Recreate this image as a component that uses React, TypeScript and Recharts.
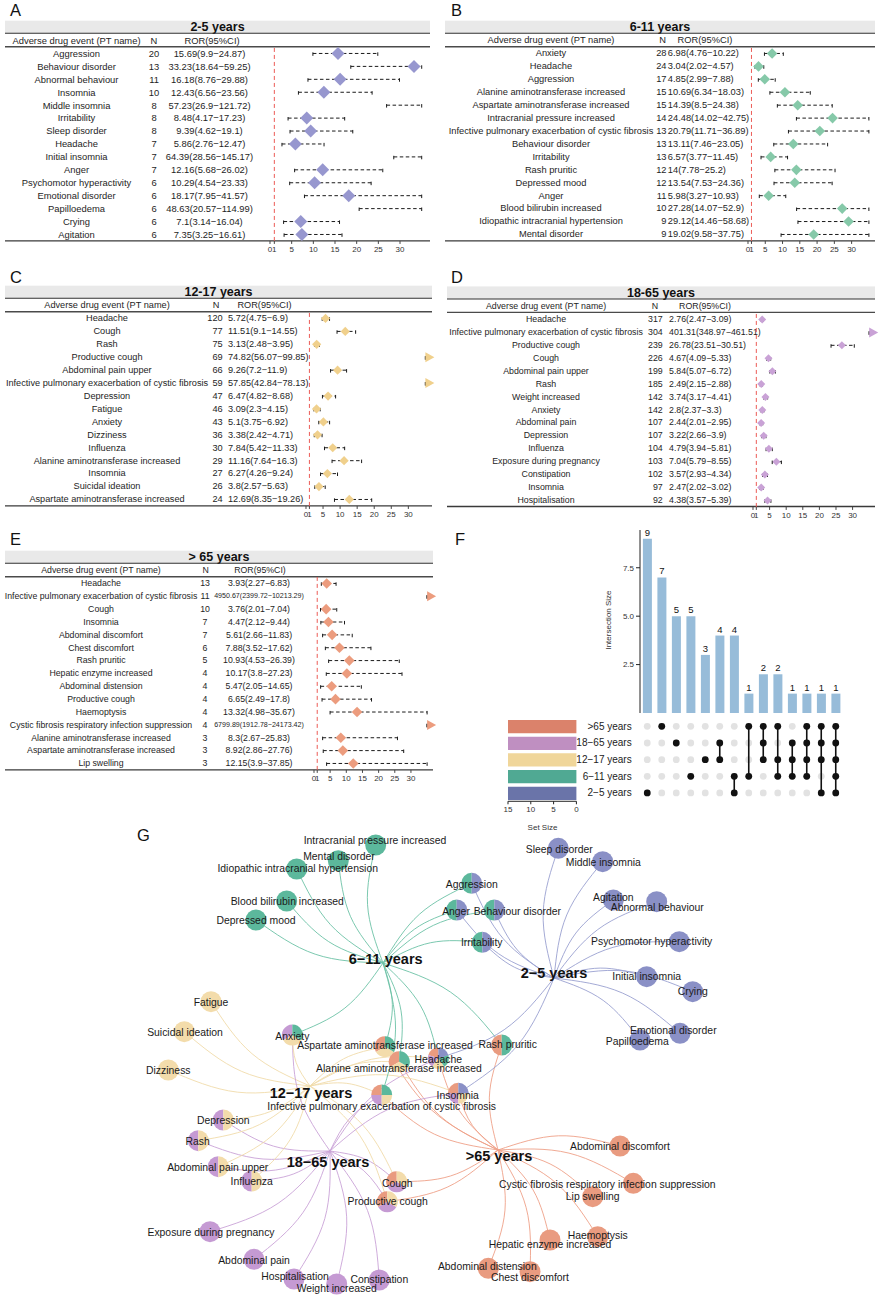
import React from 'react';
import {
  ScatterChart, Scatter, XAxis, YAxis, ErrorBar, ReferenceLine,
  BarChart, Bar, LabelList, Cell, ComposedChart, Line,
} from 'recharts';

const FONT = '"Liberation Sans", Arial, Helvetica, sans-serif';
const XMAX = 35;
const X_TICKS = [0, 1, 5, 10, 15, 20, 25, 30];

// ---- forest data, one set of arrays per age group ----
const age25Names = ['Aggression', 'Behaviour disorder', 'Abnormal behaviour', 'Insomnia', 'Middle insomnia', 'Irritability', 'Sleep disorder', 'Headache', 'Initial insomnia', 'Anger', 'Psychomotor hyperactivity', 'Emotional disorder', 'Papilloedema', 'Crying', 'Agitation'];
const age25N = [20, 13, 11, 10, 8, 8, 8, 7, 7, 7, 6, 6, 6, 6, 6];
const age25Ror = [15.69, 33.23, 16.18, 12.43, 57.23, 8.48, 9.39, 5.86, 64.39, 12.16, 10.29, 18.17, 48.63, 7.1, 7.35];
const age25Lo = [9.9, 18.64, 8.76, 6.56, 26.9, 4.17, 4.62, 2.76, 28.56, 5.68, 4.54, 7.95, 20.57, 3.14, 3.25];
const age25Hi = [24.87, 59.25, 29.88, 23.56, 121.72, 17.23, 19.1, 12.47, 145.17, 26.02, 23.33, 41.57, 114.99, 16.04, 16.61];

const age611Names = ['Anxiety', 'Headache', 'Aggression', 'Alanine aminotransferase increased', 'Aspartate aminotransferase increased', 'Intracranial pressure increased', 'Infective pulmonary exacerbation of cystic fibrosis', 'Behaviour disorder', 'Irritability', 'Rash pruritic', 'Depressed mood', 'Anger', 'Blood bilirubin increased', 'Idiopathic intracranial hypertension', 'Mental disorder'];
const age611N = [28, 24, 17, 15, 15, 14, 13, 13, 13, 12, 12, 11, 10, 9, 9];
const age611Ror = [6.98, 3.04, 4.85, 10.69, 14.39, 24.48, 20.79, 13.11, 6.57, 14, 13.54, 5.98, 27.28, 29.12, 19.02];
const age611Lo = [4.76, 2.02, 2.99, 6.34, 8.5, 14.02, 11.71, 7.46, 3.77, 7.78, 7.53, 3.27, 14.07, 14.46, 9.58];
const age611Hi = [10.22, 4.57, 7.88, 18.03, 24.38, 42.75, 36.89, 23.05, 11.45, 25.2, 24.36, 10.93, 52.9, 58.68, 37.75];

const age1217Names = ['Headache', 'Cough', 'Rash', 'Productive cough', 'Abdominal pain upper', 'Infective pulmonary exacerbation of cystic fibrosis', 'Depression', 'Fatigue', 'Anxiety', 'Dizziness', 'Influenza', 'Alanine aminotransferase increased', 'Insomnia', 'Suicidal ideation', 'Aspartate aminotransferase increased'];
const age1217N = [120, 77, 75, 69, 66, 59, 47, 46, 43, 36, 30, 29, 27, 26, 24];
const age1217Ror = [5.72, 11.51, 3.13, 74.82, 9.26, 57.85, 6.47, 3.09, 5.1, 3.38, 7.84, 11.16, 6.27, 3.8, 12.69];
const age1217Lo = [4.75, 9.1, 2.48, 56.07, 7.2, 42.84, 4.82, 2.3, 3.75, 2.42, 5.42, 7.64, 4.26, 2.57, 8.35];
const age1217Hi = [6.9, 14.55, 3.95, 99.85, 11.9, 78.13, 8.68, 4.15, 6.92, 4.71, 11.33, 16.3, 9.24, 5.63, 19.26];

const age1865Names = ['Headache', 'Infective pulmonary exacerbation of cystic fibrosis', 'Productive cough', 'Cough', 'Abdominal pain upper', 'Rash', 'Weight increased', 'Anxiety', 'Abdominal pain', 'Depression', 'Influenza', 'Exposure during pregnancy', 'Constipation', 'Insomnia', 'Hospitalisation'];
const age1865N = [317, 304, 239, 226, 199, 185, 142, 142, 107, 107, 104, 103, 102, 97, 92];
const age1865Ror = [2.76, 401.31, 26.78, 4.67, 5.84, 2.49, 3.74, 2.8, 2.44, 3.22, 4.79, 7.04, 3.57, 2.47, 4.38];
const age1865Lo = [2.47, 348.97, 23.51, 4.09, 5.07, 2.15, 3.17, 2.37, 2.01, 2.66, 3.94, 5.79, 2.93, 2.02, 3.57];
const age1865Hi = [3.09, 461.51, 30.51, 5.33, 6.72, 2.88, 4.41, 3.3, 2.95, 3.9, 5.81, 8.55, 4.34, 3.02, 5.39];

const age65Names = ['Headache', 'Infective pulmonary exacerbation of cystic fibrosis', 'Cough', 'Insomnia', 'Abdominal discomfort', 'Chest discomfort', 'Rash pruritic', 'Hepatic enzyme increased', 'Abdominal distension', 'Productive cough', 'Haemoptysis', 'Cystic fibrosis respiratory infection suppression', 'Alanine aminotransferase increased', 'Aspartate aminotransferase increased', 'Lip swelling'];
const age65N = [13, 11, 10, 7, 7, 6, 5, 4, 4, 4, 4, 4, 3, 3, 3];
const age65Ror = [3.93, 4950.67, 3.76, 4.47, 5.61, 7.88, 10.93, 10.17, 5.47, 6.65, 13.32, 6799.89, 8.3, 8.92, 12.15];
const age65Lo = [2.27, 2399.72, 2.01, 2.12, 2.66, 3.52, 4.53, 3.8, 2.05, 2.49, 4.98, 1912.78, 2.67, 2.86, 3.9];
const age65Hi = [6.83, 10213.29, 7.04, 9.44, 11.83, 17.62, 26.39, 27.23, 14.65, 17.8, 35.67, 24173.42, 25.83, 27.76, 37.85];

// ---- UpSet data ----
const GROUPS = ['>65', '18-65', '12-17', '6-11', '2-5'];
const setLabels = ['>65 years', '18\u221265 years', '12\u221217 years', '6\u221211 years', '2\u22125 years'];
const upsetCounts = [9, 7, 5, 5, 3, 4, 4, 1, 2, 2, 1, 1, 1, 1];
const upsetSets = [
  ['2-5'], ['>65'], ['18-65'], ['6-11'], ['12-17'],
  ['18-65', '12-17'], ['6-11', '2-5'], ['>65', '6-11'],
  ['>65', '18-65', '12-17'], ['>65', '12-17', '6-11'], ['18-65', '12-17', '6-11'],
  ['>65', '18-65', '12-17', '6-11'], ['>65', '18-65', '12-17', '2-5'],
  ['>65', '18-65', '12-17', '6-11', '2-5'],
];

// ---- network layout (x, y of node, lx, ly of its label) ----
const hubLayout = [
  { key: '6-11', label: '6\u221211 years', x: 383, y: 963, lx: 385.7, ly: 959.3 },
  { key: '2-5', label: '2\u22125 years', x: 554, y: 978, lx: 554, ly: 972.7 },
  { key: '12-17', label: '12\u221217 years', x: 310, y: 1086, lx: 311, ly: 1093 },
  { key: '18-65', label: '18\u221265 years', x: 330, y: 1151, lx: 328, ly: 1161.7 },
  { key: '>65', label: '>65 years', x: 498, y: 1150, lx: 499, ly: 1156 },
];
const nodeLayout: [string, number, number, number, number][] = [
  ['Intracranial pressure increased', 375.7, 845, 375, 840],
  ['Mental disorder', 338.3, 860.7, 339, 856],
  ['Idiopathic intracranial hypertension', 296.7, 869, 297.7, 868.3],
  ['Blood bilirubin increased', 286.7, 901, 287.3, 901.7],
  ['Depressed mood', 256, 920, 256, 920.7],
  ['Aggression', 471.7, 883.3, 471.7, 884.3],
  ['Anger', 456.7, 910, 456, 911],
  ['Behaviour disorder', 494.3, 910, 517.3, 911],
  ['Irritability', 482.3, 942.3, 481.7, 942],
  ['Sleep disorder', 558.3, 848.3, 559.3, 849],
  ['Middle insomnia', 602.7, 861.7, 603.3, 862.3],
  ['Agitation', 613.3, 900, 613.3, 897.7],
  ['Abnormal behaviour', 656.7, 901.7, 657.3, 907.7],
  ['Psychomotor hyperactivity', 679.3, 941.7, 651.7, 941.7],
  ['Initial insomnia', 646.7, 976.7, 646.7, 976.7],
  ['Crying', 692.7, 991.7, 692.7, 991.7],
  ['Emotional disorder', 680, 1033.3, 673.3, 1030.7],
  ['Papilloedema', 640, 1040, 637.3, 1041.7],
  ['Fatigue', 211, 1001.7, 211, 1002.3],
  ['Suicidal ideation', 184.3, 1031.7, 185, 1032.3],
  ['Dizziness', 168.3, 1070, 168.3, 1070.7],
  ['Depression', 223.3, 1120, 223.3, 1120.7],
  ['Rash', 198.3, 1140.7, 197.7, 1141.3],
  ['Abdominal pain upper', 218.3, 1166.7, 217.7, 1167.7],
  ['Influenza', 251.7, 1181, 251.7, 1181.7],
  ['Exposure during pregnancy', 210, 1231.7, 211, 1232.3],
  ['Abdominal pain', 254, 1259.3, 254, 1260],
  ['Hospitalisation', 294, 1279, 295, 1276],
  ['Weight increased', 336.7, 1284, 336.7, 1288.3],
  ['Constipation', 379.3, 1280, 379.3, 1279.3],
  ['Cough', 396.7, 1181.7, 397.3, 1183.3],
  ['Productive cough', 387.3, 1201.7, 387.7, 1201.7],
  ['Abdominal discomfort', 620, 1146, 620, 1146.3],
  ['Cystic fibrosis respiratory infection suppression', 633.3, 1183.3, 607.3, 1184.3],
  ['Lip swelling', 592.7, 1196.7, 592.7, 1196.7],
  ['Haemoptysis', 597.7, 1236.7, 597.7, 1235],
  ['Hepatic enzyme increased', 550, 1240, 550, 1244],
  ['Abdominal distension', 488.3, 1268.3, 487.3, 1266.7],
  ['Chest discomfort', 530, 1271.7, 530, 1277.3],
  ['Rash pruritic', 501.7, 1045, 507.7, 1044.3],
  ['Aspartate aminotransferase increased', 385, 1046.7, 385, 1045.7],
  ['Alanine aminotransferase increased', 399.3, 1061.7, 399, 1068.3],
  ['Anxiety', 292.3, 1035, 292.3, 1036],
  ['Headache', 438.3, 1058.3, 438.3, 1059.5],
  ['Insomnia', 458.3, 1093.3, 457.7, 1095.7],
  ['Infective pulmonary exacerbation of cystic fibrosis', 381.7, 1095, 381.7, 1106],
];

const NET_COLORS: Record<string, string> = {
  '>65': '#e99b80', '18-65': '#c59ad3', '12-17': '#f3dcab', '6-11': '#5cb89c', '2-5': '#8a90c6',
};
const EDGE_COLORS: Record<string, string> = {
  '>65': '#eea088', '18-65': '#caa3d7', '12-17': '#f1dbaa', '6-11': '#6cc2a6', '2-5': '#9aa0d0',
};
const SET_COLORS: Record<string, string> = {
  '>65': '#db826b', '18-65': '#bf8fc1', '12-17': '#f0d69a', '6-11': '#50a993', '2-5': '#6a74a9',
};

// table column placement per panel (anchor + x), header positions, font size
const PANELS = [
  { key: '2-5', letter: 'A', lx: 10, ly: 16, title: '2-5 years', bandL: 5, bandR: 430, fs: 9.4,
    nameX: 76.5, nX: 154, nA: 'middle', rorX: 209.5, rorA: 'middle', nHX: 154, rorHX: 212,
    plotL: 270.3, plotR: 422, rowY0: 53.3, sp: 12.93, dHalf: 6.5, color: '#9797cf',
    names: age25Names, n: age25N, ror: age25Ror, lo: age25Lo, hi: age25Hi },
  { key: '6-11', letter: 'B', lx: 451, ly: 16, title: '6-11 years', bandL: 445, bandR: 875, fs: 9.3,
    nameX: 551, nX: 666.5, nA: 'end', rorX: 667.8, rorA: 'start', nHX: 662.7, rorHX: 705,
    plotL: 747.6, plotR: 868.5, rowY0: 53.3, sp: 12.93, dHalf: 5.3, color: '#86c9a9',
    names: age611Names, n: age611N, ror: age611Ror, lo: age611Lo, hi: age611Hi },
  { key: '12-17', letter: 'C', lx: 10, ly: 283, title: '12-17 years', bandL: 5, bandR: 432, fs: 9.2,
    nameX: 107, nX: 222.7, nA: 'end', rorX: 228, rorA: 'start', nHX: 216, rorHX: 264.5,
    plotL: 305.6, plotR: 425, rowY0: 318.3, sp: 12.93, dHalf: 4.6, color: '#f0d08c',
    names: age1217Names, n: age1217N, ror: age1217Ror, lo: age1217Lo, hi: age1217Hi },
  { key: '18-65', letter: 'D', lx: 451, ly: 283, title: '18-65 years', bandL: 447, bandR: 875, fs: 8.8,
    nameX: 546, nX: 662.7, nA: 'end', rorX: 669, rorA: 'start', nHX: 655, rorHX: 705,
    plotL: 752.7, plotR: 868.9, rowY0: 319, sp: 12.93, dHalf: 4, color: '#c9a2d6',
    names: age1865Names, n: age1865N, ror: age1865Ror, lo: age1865Lo, hi: age1865Hi },
  { key: '>65', letter: 'E', lx: 10, ly: 545, title: '> 65 years', bandL: 5, bandR: 433, fs: 8.75,
    nameX: 101, nX: 205, nA: 'middle', rorX: 259, rorA: 'middle', nHX: 205.7, rorHX: 260,
    plotL: 313.9, plotR: 427, rowY0: 583.3, sp: 12.86, dHalf: 5.3, color: '#ec9c7e',
    names: age65Names, n: age65N, ror: age65Ror, lo: age65Lo, hi: age65Hi },
];

function ForestChart({ cfg }: any) {
  const data = cfg.ror.map((r: number, i: number) => {
    const lo = cfg.lo[i], hi = cfg.hi[i];
    const arrow = lo > XMAX;
    const x = arrow ? XMAX : r > XMAX ? lo : r;
    return {
      row: i, x,
      err: [x - Math.min(lo, XMAX), Math.min(hi, XMAX) - x],
      kind: arrow ? 'arrow' : r > XMAX ? 'none' : 'diamond',
    };
  });
  const plotW = cfg.plotR - cfg.plotL;
  const plotH = cfg.sp * 15;
  const shape = (p: any) => {
    const { cx, cy, payload } = p;
    const h = cfg.dHalf;
    if (payload.kind === 'diamond') {
      return <polygon points={`${cx - h},${cy} ${cx},${cy - h} ${cx + h},${cy} ${cx},${cy + h}`} fill={cfg.color} />;
    }
    if (payload.kind === 'arrow') {
      return <polygon points={`${cx},${cy - 5} ${cx + 9},${cy} ${cx},${cy + 5}`} fill={cfg.color} />;
    }
    return <g />;
  };
  return (
    <div style={{ position: 'absolute', left: cfg.plotL - 8, top: cfg.rowY0 - cfg.sp / 2 }}>
      <ScatterChart width={plotW + 22} height={plotH + 18} margin={{ top: 0, right: 14, bottom: 0, left: 8 }}>
        <XAxis type="number" dataKey="x" domain={[0, XMAX]} ticks={X_TICKS} interval={0}
          axisLine={false} tickSize={3} tickLine={{ stroke: '#444' }} height={18}
          tick={{ fontSize: 8, fill: '#333', fontFamily: FONT }} />
        <YAxis type="number" dataKey="row" domain={[-0.5, 14.5]} reversed hide />
        <ReferenceLine x={1} stroke="#ec5a55" strokeDasharray="4 3" strokeWidth={1} />
        <Scatter data={data} shape={shape} isAnimationActive={false}>
          <ErrorBar dataKey="err" direction="x" width={2.4} stroke="#1a1a1a" strokeWidth={1} strokeDasharray="3.5 2.5" />
        </Scatter>
      </ScatterChart>
    </div>
  );
}

function ForestTable({ cfg }: any) {
  const y0 = cfg.rowY0;
  const bottom = y0 + 14 * cfg.sp + 6.5;
  const t = { fontFamily: FONT, fontSize: cfg.fs, fill: '#1e1e1e' } as any;
  return (
    <g>
      <text x={cfg.lx} y={cfg.ly} style={{ fontFamily: FONT, fontSize: 16.5, fill: '#111' }}>{cfg.letter}</text>
      <rect x={cfg.bandL} y={y0 - 32.6} width={cfg.bandR - cfg.bandL} height={12.6} fill="#e9e9e9" />
      <text x={(cfg.bandL + cfg.bandR) / 2} y={y0 - 26.3} textAnchor="middle" dominantBaseline="central"
        style={{ fontFamily: FONT, fontSize: 12.5, fontWeight: 700, fill: '#111' }}>{cfg.title}</text>
      <line x1={cfg.bandL} x2={cfg.bandR} y1={y0 - 20} y2={y0 - 20} stroke="#333" strokeWidth={1.1} />
      <text x={cfg.nameX} y={y0 - 13.3} textAnchor="middle" dominantBaseline="central" style={t}>Adverse drug event (PT name)</text>
      <text x={cfg.nHX} y={y0 - 13.3} textAnchor="middle" dominantBaseline="central" style={t}>N</text>
      <text x={cfg.rorHX} y={y0 - 13.3} textAnchor="middle" dominantBaseline="central" style={t}>ROR(95%CI)</text>
      <line x1={cfg.bandL} x2={cfg.bandR} y1={y0 - 6.6} y2={y0 - 6.6} stroke="#4a4a4a" strokeWidth={1.4} />
      {cfg.names.map((name: string, i: number) => {
        const y = y0 + i * cfg.sp;
        const label = `${cfg.ror[i]}(${cfg.lo[i]}\u2212${cfg.hi[i]})`;
        const small = cfg.hi[i] > 1000;
        return (
          <g key={i}>
            <text x={cfg.nameX} y={y} textAnchor="middle" dominantBaseline="central" style={t}>{name}</text>
            <text x={cfg.nX} y={y} textAnchor={cfg.nA} dominantBaseline="central" style={t}>{cfg.n[i]}</text>
            <text x={cfg.rorX} y={y} textAnchor={cfg.rorA} dominantBaseline="central"
              style={{ ...t, fontSize: small ? 7.1 : cfg.fs }}>{label}</text>
          </g>
        );
      })}
      <line x1={cfg.bandL} x2={cfg.bandR} y1={bottom} y2={bottom} stroke="#3a3a3a" strokeWidth={1.3} />
    </g>
  );
}

// ---- UpSet ----
function Upset() {
  const barData = upsetCounts.map((c, i) => ({ id: `c${i}`, count: c }));
  const gridDots: any[] = [];
  upsetCounts.forEach((_, i) => GROUPS.forEach((_g, j) => gridDots.push({ col: i, set: j })));
  const cols = upsetSets.map((sets, i) =>
    GROUPS.map((g, j) => (sets.includes(g) ? { col: i, set: j } : null)).filter(Boolean));
  const setData = GROUPS.map((g, j) => ({ name: setLabels[j], key: g, size: PANELS.find((p) => p.key === g)!.names.length }));
  const dot = (fill: string) => (p: any) => <circle cx={p.cx} cy={p.cy} r={3.4} fill={fill} />;
  return (
    <>
      <div style={{ position: 'absolute', left: 592, top: 522 }}>
        <BarChart width={256} height={191} data={barData} margin={{ top: 8, right: 5, left: 0, bottom: 0 }} barCategoryGap="20%">
          <XAxis dataKey="id" hide />
          <YAxis domain={[0, 9.45]} ticks={[0, 2.5, 5, 7.5]} tickFormatter={(v: number) => v.toFixed(1)} width={48}
            tick={{ fontSize: 8, fill: '#333', fontFamily: FONT }} axisLine={{ stroke: '#222' }} tickLine={{ stroke: '#222' }} tickSize={4} />
          <Bar dataKey="count" fill="#97bcd9" isAnimationActive={false}>
            <LabelList dataKey="count" position="top" offset={3} fill="#111" fontSize={9.5} fontFamily={FONT} />
          </Bar>
        </BarChart>
      </div>
      <div style={{ position: 'absolute', left: 640, top: 717.7 }}>
        <ScatterChart width={203} height={83.3} margin={{ top: 0, right: 0, bottom: 0, left: 0 }}>
          <XAxis type="number" dataKey="col" domain={[-0.5, 13.5]} hide />
          <YAxis type="number" dataKey="set" domain={[-0.5, 4.5]} reversed hide />
          <Scatter data={gridDots} shape={dot('#e2e2e2')} isAnimationActive={false} />
          {cols.map((pts, i) => (
            <Scatter key={i} data={pts} shape={dot('#111')} line={{ stroke: '#111', strokeWidth: 1.6 }} isAnimationActive={false} />
          ))}
        </ScatterChart>
      </div>
      <div style={{ position: 'absolute', left: 500.3, top: 717.7 }}>
        <BarChart layout="vertical" width={84.4} height={97.3} data={setData} margin={{ top: 0, right: 8, left: 8, bottom: 0 }}>
          <XAxis type="number" domain={[0, 15]} reversed ticks={[0, 5, 10, 15]} height={14} interval={0}
            tick={{ fontSize: 8, fill: '#333', fontFamily: FONT }} axisLine={{ stroke: '#222' }} tickLine={{ stroke: '#222' }} tickSize={3} />
          <YAxis type="category" dataKey="name" hide />
          <Bar dataKey="size" barSize={13.3} isAnimationActive={false}>
            {setData.map((d) => <Cell key={d.key} fill={SET_COLORS[d.key]} />)}
          </Bar>
        </BarChart>
      </div>
    </>
  );
}

// ---- network ----
function Network() {
  const panelNames: Record<string, string[]> = {};
  PANELS.forEach((p) => { panelNames[p.key] = p.names; });
  const nodes = nodeLayout.map(([name, x, y, lx, ly]) => ({
    name, x, y, lx, ly, groups: GROUPS.filter((g) => panelNames[g].includes(name)),
  }));
  const hubOf: Record<string, any> = {};
  hubLayout.forEach((h) => { hubOf[h.key] = h; });
  const edges: any[] = [];
  nodes.forEach((nd) => nd.groups.forEach((g) => {
    const h = hubOf[g];
    const dx = nd.x - h.x, dy = nd.y - h.y;
    const bend = 0.1;
    edges.push({
      key: `${g}-${nd.name}`, g,
      pts: [
        { x: h.x, y: h.y },
        { x: (h.x + nd.x) / 2 + bend * dy, y: (h.y + nd.y) / 2 - bend * dx },
        { x: nd.x, y: nd.y },
      ],
    });
  }));
  const pieShape = (p: any) => {
    const { cx, cy, payload } = p;
    const gs: string[] = payload.groups;
    const r = 10.5;
    if (gs.length === 1) return <circle cx={cx} cy={cy} r={r} fill={NET_COLORS[gs[0]]} />;
    const step = 360 / gs.length;
    return (
      <g>
        {gs.map((g, i) => {
          const a1 = ((90 + i * step) * Math.PI) / 180;
          const a2 = ((90 + (i + 1) * step) * Math.PI) / 180;
          const x1 = cx + r * Math.cos(a1), y1 = cy - r * Math.sin(a1);
          const x2 = cx + r * Math.cos(a2), y2 = cy - r * Math.sin(a2);
          return <path key={g} d={`M${cx},${cy}L${x1},${y1}A${r},${r} 0 0 0 ${x2},${y2}Z`} fill={NET_COLORS[g]} />;
        })}
      </g>
    );
  };
  const labelShape = (p: any) => (
    <text x={p.cx} y={p.cy} textAnchor="middle" dominantBaseline="central"
      style={{ fontFamily: FONT, fontSize: 10.4, fill: '#1a1a1a' }}>{p.payload.name}</text>
  );
  const hubShape = (p: any) => (
    <text x={p.cx} y={p.cy} textAnchor="middle" dominantBaseline="central"
      style={{ fontFamily: FONT, fontSize: 14.5, fontWeight: 700, fill: '#111' }}>{p.payload.label}</text>
  );
  return (
    <div style={{ position: 'absolute', left: 0, top: 830 }}>
      <ComposedChart width={879} height={467} margin={{ top: 0, right: 0, bottom: 0, left: 0 }}>
        <XAxis type="number" dataKey="x" domain={[0, 879]} hide />
        <YAxis type="number" dataKey="y" domain={[830, 1297]} reversed hide />
        {edges.map((e) => (
          <Line key={e.key} data={e.pts} dataKey="y" type="natural" stroke={EDGE_COLORS[e.g]} strokeWidth={0.9}
            dot={false} activeDot={false} isAnimationActive={false} />
        ))}
        <Scatter data={nodes} shape={pieShape} isAnimationActive={false} />
        <Scatter data={nodes.map((n) => ({ x: n.lx, y: n.ly, name: n.name }))} shape={labelShape} isAnimationActive={false} />
        <Scatter data={hubLayout.map((h) => ({ x: h.lx, y: h.ly, label: h.label }))} shape={hubShape} isAnimationActive={false} />
      </ComposedChart>
    </div>
  );
}

export default function App() {
  const setY = [726, 742.7, 759.3, 776, 792.7];
  return (
    <div style={{ position: 'absolute', left: 0, top: 0, width: 879, height: 1297, background: '#fff', fontFamily: FONT }}>
      <svg width={879} height={1297} style={{ position: 'absolute', left: 0, top: 0 }}>
        {PANELS.map((p) => <ForestTable key={p.key} cfg={p} />)}
        <text x={455} y={545} style={{ fontFamily: FONT, fontSize: 16.5, fill: '#111' }}>F</text>
        <text x={137} y={841} style={{ fontFamily: FONT, fontSize: 16.5, fill: '#111' }}>G</text>
        <text x={608} y={620} textAnchor="middle" dominantBaseline="central" transform="rotate(-90 608 620)"
          style={{ fontFamily: FONT, fontSize: 8, fill: '#333' }}>Intersection Size</text>
        {setLabels.map((s, j) => (
          <text key={s} x={631.7} y={setY[j]} textAnchor="end" dominantBaseline="central"
            style={{ fontFamily: FONT, fontSize: 10, fill: '#222' }}>{s}</text>
        ))}
        <text x={542.5} y={827} textAnchor="middle" dominantBaseline="central"
          style={{ fontFamily: FONT, fontSize: 8, fill: '#333' }}>Set Size</text>
      </svg>
      {PANELS.map((p) => <ForestChart key={p.key} cfg={p} />)}
      <Upset />
      <Network />
    </div>
  );
}
